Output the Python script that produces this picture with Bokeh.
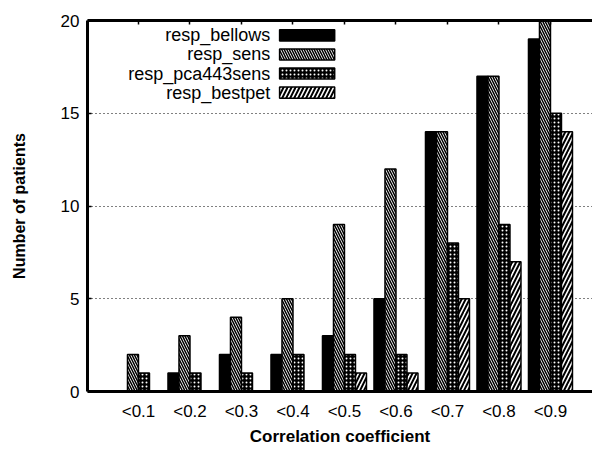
from bokeh.plotting import figure
from bokeh.models import Range1d, FixedTicker, LinearAxis, CustomLabelingPolicy
from bokeh.core.properties import value
from bokeh.embed import file_html
from bokeh.resources import INLINE

# Histogram data: number of patients per correlation-coefficient bin
categories = ["<0.1", "<0.2", "<0.3", "<0.4", "<0.5", "<0.6", "<0.7", "<0.8", "<0.9"]
resp_bellows = [0, 1, 2, 2, 3, 5, 14, 17, 19]
resp_sens = [2, 3, 4, 5, 9, 12, 14, 17, 20]
resp_pca443sens = [1, 1, 1, 2, 2, 2, 8, 9, 15]
resp_bestpet = [0, 0, 0, 0, 1, 1, 5, 7, 14]
series_names = ["resp_bellows", "resp_sens", "resp_pca443sens", "resp_bestpet"]
y_ticks = [0, 5, 10, 15, 20]

series = [resp_bellows, resp_sens, resp_pca443sens, resp_bestpet]

# Monochrome fill patterns, one per series
styles = [
    dict(fill_color="black"),
    dict(fill_color="white", hatch_pattern="left_diagonal_line", hatch_color="black",
         hatch_scale=5, hatch_weight=1.5),
    dict(fill_color="black", hatch_pattern="dot", hatch_color="white",
         hatch_scale=4, hatch_weight=1),
    dict(fill_color="white", hatch_pattern="right_diagonal_line", hatch_color="black",
         hatch_scale=8, hatch_weight=2),
]

FONT = "Liberation Sans"
bar_w = 0.2136

p = figure(width=592, height=449, output_backend="svg", toolbar_location=None,
           x_range=Range1d(-0.99, 8.816), y_range=Range1d(0, 20),
           min_border_left=87, min_border_right=0, min_border_top=20,
           min_border_bottom=58, x_axis_location=None, y_axis_location=None)
p.outline_line_color = None
p.background_fill_color = "white"
p.xgrid.visible = False
p.ygrid.ticker = FixedTicker(ticks=[5, 10, 15])
p.ygrid.grid_line_color = "black"
p.ygrid.grid_line_width = 1
p.ygrid.grid_line_dash = "1 3"

positions = list(range(len(categories)))

# Grouped bars
for k, (vals, st) in enumerate(zip(series, styles)):
    xs = [i + (k - 1.5) * bar_w for i in positions]
    p.vbar(x=xs, top=vals, bottom=0, width=bar_w, line_color="black",
           line_width=1.5, **st)

# Legend: label right-aligned, swatch to its right
leg_text_x = 2.56
sw_left, sw_right = 2.74, 3.81
row_y = [19.2, 18.17, 17.14, 16.11]
sw_h = 0.6
for name, y, st in zip(series_names, row_y, styles):
    p.quad(left=[sw_left], right=[sw_right], bottom=[y - sw_h / 2], top=[y + sw_h / 2],
           line_color="black", line_width=1.5, **st)
p.text(x=[leg_text_x] * 4, y=row_y, text=series_names, text_align="right",
       text_baseline="middle", text_font=value(FONT), text_font_size="18px",
       text_color="black")

# Axes
axis_common = dict(axis_line_width=3, axis_line_color="black",
                   major_tick_line_color="black", major_tick_line_width=1.5,
                   minor_tick_line_color=None,
                   major_label_text_font=FONT, major_label_text_font_size="17px",
                   major_label_text_color="black",
                   axis_label_text_font=FONT, axis_label_text_font_style="bold",
                   axis_label_text_color="black")

xaxis = LinearAxis(ticker=FixedTicker(ticks=positions),
                   major_label_overrides={i: c for i, c in enumerate(categories)},
                   major_tick_in=0, major_tick_out=0, major_label_standoff=10,
                   axis_label="Correlation coefficient", axis_label_standoff=3,
                   axis_label_text_font_size="17px", **axis_common)
p.add_layout(xaxis, "below")

# Top frame line with inward ticks at the group centres, no labels
hide_all = CustomLabelingPolicy(code="""
    for (const i of Array.from(indices))
        indices.unset(i)
    return indices
""")
top_axis = LinearAxis(ticker=FixedTicker(ticks=positions), major_tick_in=4,
                      major_tick_out=0, major_label_standoff=0,
                      major_label_policy=hide_all, **axis_common)
p.add_layout(top_axis, "above")

yaxis = LinearAxis(ticker=FixedTicker(ticks=y_ticks), major_tick_in=4,
                   major_tick_out=0, major_label_standoff=8,
                   axis_label="Number of patients", axis_label_standoff=30,
                   axis_label_text_font_size="16px", **axis_common)
p.add_layout(yaxis, "left")

open("out.html", "w").write(file_html(p, INLINE))
